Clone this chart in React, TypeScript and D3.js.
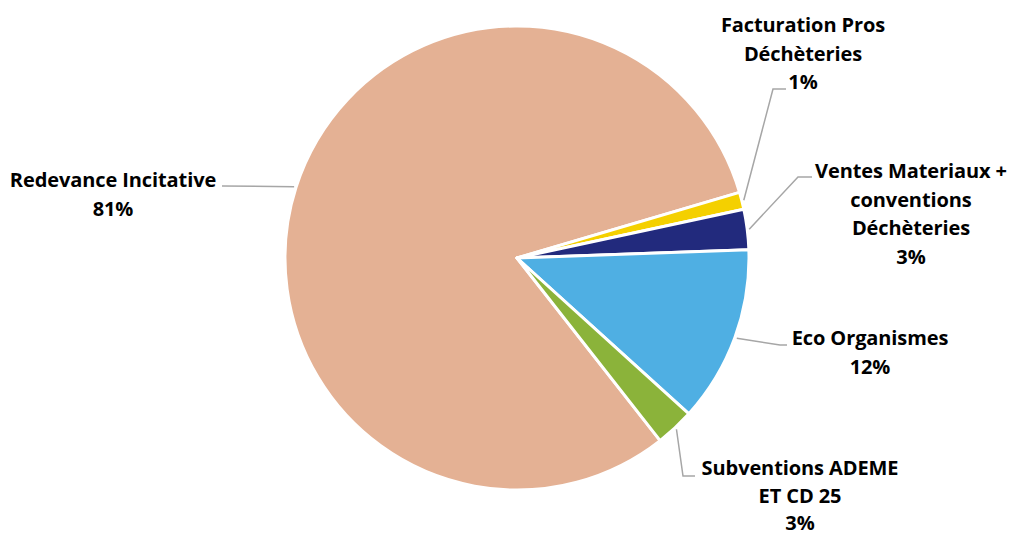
import React from "react";
import * as d3 from "d3";

const categories = [
  "Redevance Incitative",
  "Facturation Pros Déchèteries",
  "Ventes Materiaux + conventions Déchèteries",
  "Eco Organismes",
  "Subventions ADEME ET CD 25",
];
const values = [81.1, 1.2, 2.8, 12.3, 2.7];
const percentLabels = ["81%", "1%", "3%", "12%", "3%"];
const colors = ["#E4B194", "#F4D000", "#222A7D", "#4FAFE3", "#8BB33A"];

const labelLines = [
  ["Redevance Incitative", percentLabels[0]],
  ["Facturation Pros", "Déchèteries", percentLabels[1]],
  ["Ventes Materiaux +", "conventions", "Déchèteries", percentLabels[2]],
  ["Eco Organismes", percentLabels[3]],
  ["Subventions ADEME", "ET CD 25", percentLabels[4]],
];
const labelPos = [
  { x: 113, y: 187, elbow: [222, 186], end: [222, 186] },
  { x: 803, y: 32, elbow: [773, 89], end: [786, 89] },
  { x: 911, y: 178, elbow: [798, 177], end: [812, 177] },
  { x: 870, y: 345, elbow: [780, 345], end: [787, 345] },
  { x: 800, y: 475, elbow: [683, 476], end: [695, 476] },
];
const lineHeights = [28.5, 28.5, 28.5, 28.5, 27.5];

const W = 1011;
const H = 536;
const cx = 517;
const cy = 258;
const R = 232;
const startDeg = 141.9;

export default function App() {
  const pie = d3
    .pie<number>()
    .sort(null)
    .value((d) => d)
    .startAngle((startDeg * Math.PI) / 180)
    .endAngle(((startDeg + 360) * Math.PI) / 180);
  const arcs = pie(values);
  const arc = d3.arc<d3.PieArcDatum<number>>().innerRadius(0).outerRadius(R);
  const edge = d3.arc<d3.PieArcDatum<number>>().innerRadius(R + 2).outerRadius(R + 2);

  return (
    <svg
      width={W}
      height={H}
      style={{ position: "absolute", left: 0, top: 0, background: "#fff" }}
      fontFamily="'Open Sans', sans-serif"
    >
      <g transform={`translate(${cx},${cy})`}>
        {arcs.map((a, i) => (
          <path key={categories[i]} d={arc(a) || ""} fill={colors[i]} stroke="#fff" strokeWidth={3} strokeLinejoin="round" />
        ))}
      </g>
      {arcs.map((a, i) => {
        const [sx, sy] = edge.centroid(a);
        const p = labelPos[i];
        const pts = [[cx + sx, cy + sy], p.elbow, p.end];
        return (
          <polyline
            key={"l" + i}
            points={pts.map((q) => q.join(",")).join(" ")}
            fill="none"
            stroke="#A6A6A6"
            strokeWidth={1.5}
          />
        );
      })}
      {labelLines.map((lines, i) => (
        <text
          key={"t" + i}
          x={labelPos[i].x}
          y={labelPos[i].y}
          textAnchor="middle"
          fontSize={20}
          fontWeight={700}
          fill="#000"
          letterSpacing={-0.1}
        >
          {lines.map((ln, j) => (
            <tspan key={j} x={labelPos[i].x} y={labelPos[i].y + j * lineHeights[i]}>
              {ln}
            </tspan>
          ))}
        </text>
      ))}
    </svg>
  );
}
